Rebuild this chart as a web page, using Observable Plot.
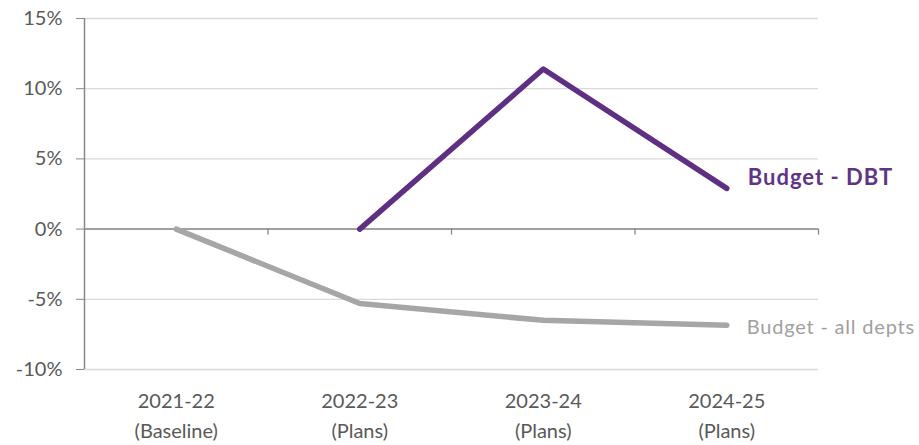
<!DOCTYPE html>
<html><head><meta charset="utf-8">
<script src="https://cdn.jsdelivr.net/npm/d3@7"></script>
<script src="https://cdn.jsdelivr.net/npm/@observablehq/plot@0.6"></script>
<style>body{margin:0;background:#fff}</style>
</head><body><div id="chart"></div>
<script>
const years = ["2021-22", "2022-23", "2023-24", "2024-25"];
const phases = ["(Baseline)", "(Plans)", "(Plans)", "(Plans)"];
const allDepts = [0, -5.3, -6.5, -6.85];
const dbt = [null, 0, 11.4, 2.9];
const yTicks = [-10, -5, 0, 5, 10, 15];
const labelAll = "Budget - all depts";
const labelDbt = "Budget - DBT";

const allRows = allDepts.map((v, i) => ({i, v}));
const dbtRows = dbt.map((v, i) => ({i, v})).filter(d => d.v != null);
const boundaries = d3.range(1, years.length + 1).map(k => k - 0.5);

const chart = Plot.plot({
  width: 919, height: 445,
  marginLeft: 84, marginRight: 101, marginTop: 18, marginBottom: 76,
  x: {type: "linear", domain: [-0.5, years.length - 0.5], axis: null},
  y: {domain: [yTicks[0], yTicks[yTicks.length - 1]], axis: null},
  style: {fontFamily: "Lato, 'Open Sans', sans-serif", background: "#fff", overflow: "visible"},
  marks: [
    Plot.gridY(yTicks, {stroke: "#d9d9d9", strokeOpacity: 1, strokeWidth: 1.3}),
    Plot.ruleY([0], {stroke: "#888", strokeWidth: 1.5}),
    Plot.ruleX(boundaries, {y1: 0, y2: 0, insetTop: 0, insetBottom: -6, stroke: "#888", strokeWidth: 1.3}),
    Plot.ruleX([-0.5], {y1: yTicks[0], y2: yTicks[yTicks.length - 1], stroke: "#888", strokeWidth: 1.5}),
    Plot.axisY(yTicks, {label: null, tickFormat: d => d + "%", tickSize: 8, tickPadding: 14, fontSize: 20, stroke: "#888", fill: "#595959"}),
    Plot.axisX(d3.range(years.length), {
      label: null,
      tickFormat: i => years[i] + "\n" + phases[i],
      tickSize: 0, tickPadding: 17, fontSize: 20, lineHeight: 1.5, fill: "#595959"
    }),
    Plot.line(allRows, {x: "i", y: "v", stroke: "#a6a6a6", strokeWidth: 5.5}),
    Plot.line(dbtRows, {x: "i", y: "v", stroke: "#5f2f84", strokeWidth: 5.5}),
    Plot.text(allRows.slice(-1), {x: "i", y: "v", text: () => labelAll, dx: 20, dy: 2, textAnchor: "start", fontSize: 20, fill: "#a0a0a0"}),
    Plot.text(dbtRows.slice(-1), {x: "i", y: "v", text: () => labelDbt, dx: 21, dy: -10, textAnchor: "start", fontSize: 22, fontWeight: "bold", fill: "#5f3585"})
  ]
});
d3.select(chart).selectAll("text").filter(function () { return this.textContent === labelAll; }).attr("letter-spacing", "0.8");
d3.select(chart).selectAll("text").filter(function () { return this.textContent === labelDbt; }).attr("letter-spacing", "1");
document.getElementById("chart").appendChild(chart);
</script>
</body></html>
